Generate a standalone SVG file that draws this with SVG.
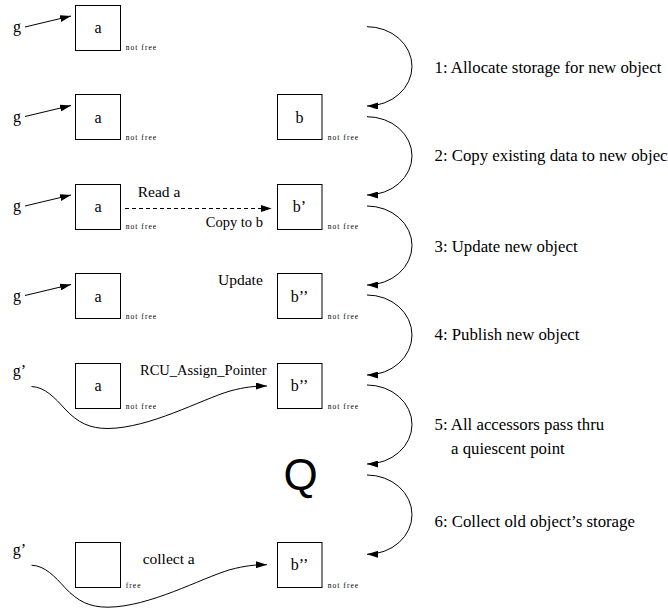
<svg xmlns="http://www.w3.org/2000/svg" width="668" height="612" viewBox="0 0 668 612">
<style>
.bx{fill:none;stroke:#000;stroke-width:1}
.t{font-family:"Liberation Serif","Times New Roman",serif;font-size:16px;fill:#000}
.m{font-family:"Liberation Serif","Times New Roman",serif;font-size:15.5px;fill:#000}
.l{font-family:"Liberation Serif","Times New Roman",serif;font-size:16.8px;fill:#000}
.s{font-family:"Liberation Serif","Times New Roman",serif;font-size:7.5px;letter-spacing:1.05px;fill:#000}
.c{fill:none;stroke:#000;stroke-width:1}
.q{font-family:"Liberation Sans",Arial,sans-serif;font-size:44px;fill:#000}
</style>
<defs>
<marker id="ah" markerWidth="11" markerHeight="7" refX="11" refY="3.5" orient="auto" markerUnits="userSpaceOnUse"><path d="M0,0 L11,3.5 L0,7 z" fill="#000"/></marker>
</defs>
<rect width="668" height="612" fill="#fff"/>

<g id="row1">
<text class="t" x="13" y="32">g</text>
<rect class="bx" x="75.5" y="5.5" width="45" height="45"/>
<text class="t" x="98" y="33" text-anchor="middle">a</text>
<text class="s" x="125.7" y="50">not free</text>
</g>

<g id="row2">
<text class="t" x="13" y="121.5">g</text>
<rect class="bx" x="75.5" y="94.5" width="45" height="45"/>
<text class="t" x="98" y="122.5" text-anchor="middle">a</text>
<text class="s" x="125.7" y="139.5">not free</text>
<rect class="bx" x="277.5" y="94.5" width="44.5" height="45"/>
<text class="t" x="299.5" y="122.5" text-anchor="middle">b</text>
<text class="s" x="327.7" y="139.5">not free</text>
</g>

<g id="row3">
<text class="t" x="13" y="211">g</text>
<rect class="bx" x="75.5" y="184.5" width="45" height="45"/>
<text class="t" x="98" y="212" text-anchor="middle">a</text>
<text class="s" x="125.7" y="229">not free</text>
<text class="m" x="137.7" y="196.5">Read a</text>
<text class="m" x="263" y="227" text-anchor="end" style="font-size:14.5px">Copy to b</text>
<rect class="bx" x="277.5" y="184.5" width="44.5" height="45"/>
<text class="t" x="299.5" y="212" text-anchor="middle">b’</text>
<text class="s" x="327.7" y="229">not free</text>
</g>

<g id="row4">
<text class="t" x="13" y="300.5">g</text>
<rect class="bx" x="75.5" y="273.5" width="45" height="45"/>
<text class="t" x="98" y="301.5" text-anchor="middle">a</text>
<text class="s" x="125.7" y="318.5">not free</text>
<text class="m" x="218" y="285">Update</text>
<rect class="bx" x="277.5" y="273.5" width="44.5" height="45"/>
<text class="t" x="299.5" y="301.5" text-anchor="middle">b’’</text>
<text class="s" x="327.7" y="318.5">not free</text>
</g>

<g id="row5">
<text class="t" x="12.7" y="376">g’</text>
<rect class="bx" x="75.5" y="363.5" width="45" height="45"/>
<text class="t" x="98" y="391" text-anchor="middle">a</text>
<text class="s" x="125.7" y="408.5">not free</text>
<text class="m" x="140" y="374.5" style="font-size:14.5px">RCU_Assign_Pointer</text>
<rect class="bx" x="277.5" y="363.5" width="44.5" height="45"/>
<text class="t" x="299.5" y="391" text-anchor="middle">b’’</text>
<text class="s" x="327.7" y="408.5">not free</text>
</g>

<g id="quiescent">
<text class="q" x="300.5" y="490" text-anchor="middle">Q</text>
</g>

<g id="row6">
<text class="t" x="12.7" y="555">g’</text>
<rect class="bx" x="75.5" y="542.5" width="45" height="45"/>
<text class="s" x="125.7" y="587.5">free</text>
<text class="m" x="142.7" y="564">collect a</text>
<rect class="bx" x="277.5" y="542.5" width="44.5" height="45"/>
<text class="t" x="299.5" y="570" text-anchor="middle">b’’</text>
<text class="s" x="327.7" y="587.5">not free</text>
</g>

<g id="steps">
<text class="l" x="434.5" y="72.5">1: Allocate storage for new object</text>
<text class="l" x="434.5" y="161">2: Copy existing data to new object</text>
<text class="l" x="434.5" y="251.5">3: Update new object</text>
<text class="l" x="434.5" y="340">4: Publish new object</text>
<text class="l" x="434.5" y="430">5: All accessors pass thru</text>
<text class="l" x="451" y="453.5">a quiescent point</text>
<text class="l" x="434.5" y="527">6: Collect old object’s storage</text>
</g>

<g id="connectors">
<line class="c" x1="25" y1="27" x2="71" y2="16" marker-end="url(#ah)"/>
<line class="c" x1="25" y1="116.5" x2="71" y2="105.5" marker-end="url(#ah)"/>
<line class="c" x1="25" y1="206" x2="71" y2="195" marker-end="url(#ah)"/>
<line class="c" x1="25" y1="295.5" x2="71" y2="284.5" marker-end="url(#ah)"/>
<line class="c" x1="125" y1="208.5" x2="271.7" y2="208.5" stroke-dasharray="4,3" marker-end="url(#ah)"/>
<path class="c" d="M31.5,386.5 C45,387 55,398 65,409 C78,423 90,428.5 108,428.5 C150,428 200,400 230,391 C245,387 255,386 267,386" marker-end="url(#ah)"/>
<path class="c" d="M31.5,565.2 C45,565.7 55,576.7 65,587.7 C78,601.7 90,607.2 108,607.2 C150,606.7 200,578.7 230,569.7 C245,565.7 255,564.7 267,564.7" marker-end="url(#ah)"/>
<path class="c" d="M367,26.7 A45,39.65 0 0 1 367,106" marker-end="url(#ah)"/>
<path class="c" d="M367,116.7 A45,39.15 0 0 1 367,195" marker-end="url(#ah)"/>
<path class="c" d="M367,206 A45,39.5 0 0 1 367,285" marker-end="url(#ah)"/>
<path class="c" d="M367,295 A45,40 0 0 1 367,375" marker-end="url(#ah)"/>
<path class="c" d="M367,385 A45,39.5 0 0 1 367,464" marker-end="url(#ah)"/>
<path class="c" d="M367,475 A45,39.65 0 0 1 367,554.3" marker-end="url(#ah)"/>
</g>
</svg>
